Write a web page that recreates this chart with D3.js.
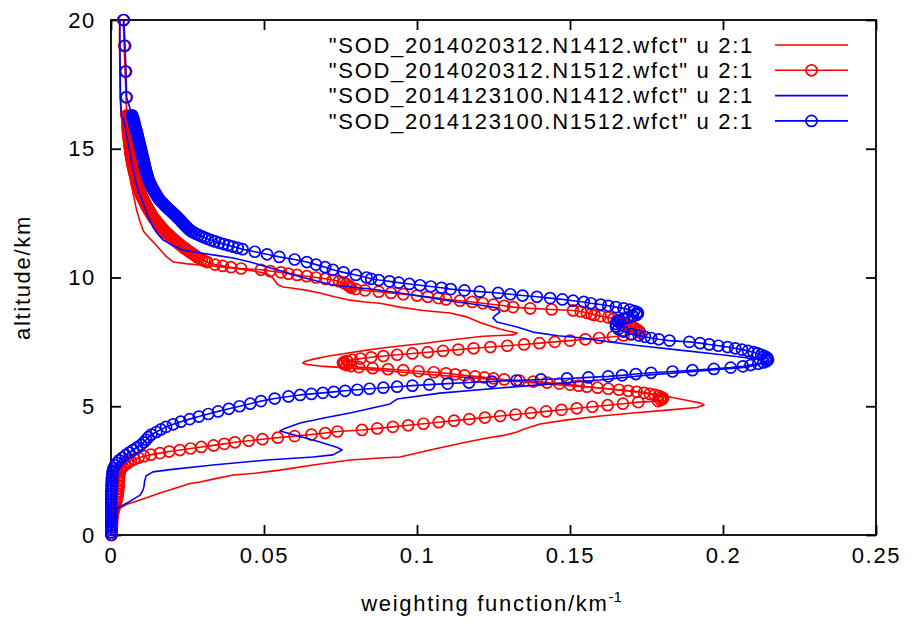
<!DOCTYPE html>
<html>
<head>
<meta charset="utf-8">
<script src="https://cdn.jsdelivr.net/npm/d3@7/dist/d3.min.js"></script>
<style>
    body { margin: 0; background: #fff; }
    .wf-chart text { font-family: "Liberation Sans", Arial, sans-serif; fill: #000; }
</style>
</head>
<body>
<div class="wf-chart"></div>
<script>
// 每条曲线: [weighting function, altitude]
let sodA1412 = [[0.0028,20],[0.0028,19],[0.0029,18],[0.0030,17],[0.0033,16.3],[0.0036,16.1],[0.0042,15.7],[0.0049,15.3],[0.0053,14.8],[0.0057,14.3],[0.0062,13.9],[0.0068,13.5],[0.0075,13.1],[0.0084,12.6],[0.0094,12.2],[0.0106,11.8],[0.0124,11.55],[0.0144,11.3],[0.0163,11.05],[0.0182,10.8],[0.0204,10.6],[0.0250,10.53],[0.0291,10.49],[0.0345,10.43],[0.0399,10.36],[0.0455,10.27],[0.0509,10.16],[0.0529,9.98],[0.0545,9.72],[0.0562,9.63],[0.0595,9.58],[0.0640,9.5],[0.0683,9.4],[0.0730,9.25],[0.0781,9.12],[0.0830,9.05],[0.0879,9.0],[0.0944,8.85],[0.1020,8.72],[0.1108,8.62],[0.1163,8.47],[0.1206,8.25],[0.1240,8.12],[0.1271,8.0],[0.1305,7.9],[0.1327,7.84],[0.1314,7.77],[0.1216,7.72],[0.1108,7.57],[0.1020,7.44],[0.0944,7.34],[0.0880,7.25],[0.0837,7.18],[0.0775,7.07],[0.0716,6.96],[0.0665,6.84],[0.0633,6.74],[0.0627,6.68],[0.0640,6.62],[0.0683,6.56],[0.0760,6.5],[0.0814,6.45],[0.0944,6.33],[0.1108,6.17],[0.1271,6.02],[0.1435,5.86],[0.1598,5.71],[0.1729,5.55],[0.1810,5.4],[0.1876,5.24],[0.1925,5.13],[0.1938,5.05],[0.1915,4.95],[0.1827,4.86],[0.1706,4.74],[0.1600,4.62],[0.1490,4.47],[0.1402,4.31],[0.1350,4.12],[0.1327,4.0],[0.1288,3.88],[0.1220,3.75],[0.1163,3.61],[0.1050,3.32],[0.0944,3.03],[0.0879,2.99],[0.0781,2.91],[0.0660,2.72],[0.0552,2.52],[0.0470,2.4],[0.0399,2.33],[0.0330,2.16],[0.0291,2.06],[0.0258,2.0],[0.0220,1.85],[0.0160,1.63],[0.0095,1.36],[0.0050,1.18],[0.0030,1.05],[0.0020,0.97],[0.0010,0.66],[0.0003,0.27],[0.0000,0]]

let sodA1512 = [[0.0040,20],[0.0043,19],[0.0046,18],[0.0049,17],
    [0.0052,16.3],[0.0052,16.25],[0.0053,16.2],[0.0053,16.15],[0.0053,16.1],[0.0054,16.05],[0.0054,16.0],[0.0054,15.95],[0.0054,15.9],[0.0055,15.85],[0.0055,15.8],[0.0055,15.75],[0.0055,15.7],[0.0056,15.65],[0.0056,15.6],[0.0057,15.55],[0.0057,15.5],[0.0058,15.45],[0.0058,15.4],[0.0059,15.35],[0.0059,15.3],[0.0060,15.25],[0.0060,15.2],[0.0061,15.15],[0.0061,15.1],[0.0062,15.05],[0.0062,15.0],[0.0063,14.95],[0.0063,14.9],[0.0064,14.85],[0.0064,14.8],[0.0065,14.75],[0.0066,14.7],[0.0067,14.65],[0.0067,14.6],[0.0068,14.55],[0.0069,14.5],[0.0070,14.45],[0.0070,14.4],[0.0071,14.35],[0.0072,14.3],[0.0073,14.25],[0.0074,14.2],[0.0075,14.15],[0.0076,14.1],[0.0077,14.05],[0.0078,14.0],[0.0079,13.95],[0.0080,13.9],[0.0081,13.85],[0.0082,13.8],[0.0083,13.75],[0.0084,13.7],[0.0085,13.65],[0.0087,13.6],[0.0088,13.55],[0.0089,13.5],[0.0091,13.45],[0.0092,13.4],[0.0094,13.35],[0.0095,13.3],[0.0097,13.25],[0.0099,13.2],[0.0101,13.15],[0.0103,13.1],[0.0105,13.05],[0.0107,13.0],[0.0109,12.95],[0.0111,12.9],[0.0113,12.85],[0.0115,12.8],[0.0117,12.75],[0.0120,12.7],[0.0122,12.65],[0.0125,12.6],[0.0127,12.55],[0.0130,12.5],[0.0132,12.45],[0.0135,12.4],[0.0137,12.35],[0.0140,12.3],[0.0143,12.25],[0.0147,12.2],[0.0150,12.15],[0.0154,12.1],[0.0157,12.05],[0.0161,12.0],[0.0164,11.95],[0.0168,11.9],[0.0172,11.85],[0.0176,11.8],[0.0180,11.75],[0.0185,11.7],[0.0189,11.65],[0.0194,11.6],[0.0198,11.55],[0.0203,11.5],[0.0208,11.45],[0.0213,11.4],[0.0218,11.35],[0.0223,11.3],[0.0228,11.25],[0.0234,11.2],[0.0239,11.15],[0.0245,11.1],[0.0251,11.05],[0.0257,11.0],[0.0263,10.95],[0.0269,10.9],[0.0275,10.85],[0.0281,10.8],[0.0289,10.75],[0.0297,10.7],[0.0305,10.65],[0.0314,10.6],
    [0.0340,10.5],[0.0365,10.45],[0.0392,10.4],[0.0425,10.35],[0.0490,10.3],[0.0520,10.25],[0.0555,10.2],[0.0580,10.15],[0.0608,10.1],[0.0640,10.05],[0.0670,10.0],[0.0700,9.95],[0.0725,9.9],[0.0745,9.85],[0.0760,9.8],[0.0768,9.75],[0.0775,9.7],[0.0780,9.65],[0.0785,9.6],[0.0800,9.55],[0.0830,9.5],[0.0875,9.45],[0.0915,9.4],[0.0955,9.35],[0.1000,9.3],[0.1035,9.25],[0.1070,9.2],[0.1095,9.15],[0.1140,9.1],[0.1180,9.05],[0.1215,9.0],[0.1250,8.95],[0.1285,8.9],[0.1314,8.85],[0.1370,8.8],[0.1440,8.76],[0.1510,8.72],[0.1535,8.68],[0.1555,8.63],[0.1570,8.58],[0.1580,8.54],[0.1600,8.5],[0.1625,8.45],[0.1642,8.4],[0.1655,8.35],[0.1665,8.3],[0.1675,8.25],[0.1685,8.2],[0.1695,8.15],[0.1703,8.1],[0.1710,8.05],[0.1716,8.0],[0.1722,7.95],[0.1727,7.9],[0.1729,7.85],
    [0.1700,7.8],[0.1675,7.75],[0.1640,7.7],[0.1595,7.65],[0.1550,7.6],[0.1500,7.55],[0.1450,7.5],[0.1400,7.45],[0.1350,7.4],[0.1295,7.35],[0.1240,7.3],[0.1185,7.25],[0.1135,7.2],[0.1085,7.15],[0.1035,7.1],[0.0985,7.05],[0.0935,7.0],[0.0890,6.95],[0.0850,6.9],[0.0815,6.85],[0.0788,6.8],[0.0772,6.76],[0.0762,6.72],[0.0758,6.68],[0.0762,6.64],[0.0770,6.6],[0.0785,6.56],
    [0.0810,6.52],[0.0855,6.48],[0.0905,6.44],[0.0955,6.4],[0.1005,6.36],[0.1055,6.32],[0.1095,6.28],[0.1125,6.24],[0.1155,6.2],[0.1190,6.16],[0.1220,6.12],[0.1250,6.08],[0.1285,6.04],[0.1335,6.0],[0.1380,5.96],[0.1425,5.92],[0.1465,5.88],[0.1500,5.84],[0.1528,5.8],[0.1555,5.76],[0.1590,5.72],[0.1625,5.68],[0.1660,5.64],[0.1690,5.6],[0.1718,5.56],[0.1742,5.52],[0.1761,5.48],[0.1777,5.44],[0.1790,5.4],[0.1798,5.36],[0.1804,5.32],[0.1802,5.28],[0.1796,5.24],[0.1788,5.2],
    [0.1723,5.16],[0.1673,5.1],[0.1623,5.04],[0.1573,4.98],[0.1522,4.92],[0.1472,4.86],[0.1422,4.8],[0.1372,4.74],[0.1322,4.68],[0.1272,4.62],[0.1222,4.56],[0.1171,4.5],[0.1121,4.44],[0.1071,4.38],[0.1021,4.32],[0.0971,4.26],[0.0921,4.2],[0.0870,4.14],[0.0820,4.08],[0.0740,4.02],[0.0700,3.96],[0.0655,3.9],[0.0600,3.84],[0.0545,3.78],[0.0495,3.72],[0.0450,3.66],[0.0405,3.6],[0.0370,3.54],[0.0335,3.48],[0.0295,3.42],[0.0260,3.36],[0.0225,3.3],[0.0190,3.24],[0.0160,3.18],[0.0130,3.12],[0.0108,3.06],[0.0090,3.0],[0.0076,2.94],[0.0065,2.88],[0.0055,2.8],[0.0045,2.72],[0.0038,2.64],[0.0033,2.56],[0.0030,2.48],[0.0028,2.4],[0.0027,2.3],[0.0026,2.2],[0.0026,2.1],[0.0025,2.0],[0.0025,1.9],[0.0024,1.8],[0.0023,1.7],[0.0022,1.6],[0.0021,1.5],[0.0019,1.4],[0.0017,1.3],[0.0015,1.2],[0.0012,1.1],[0.0010,1.0],[0.0008,0.9],[0.0006,0.8],[0.0005,0.7],[0.0004,0.6],[0.0004,0.5],[0.0003,0.4],[0.0003,0.3],[0.0002,0.2],[0.0002,0.1],[0.0002,0]]

let sodB1412 = [[0.0029,20],[0.0029,19],[0.0030,18],[0.0031,17],[0.0034,16.3],[0.0042,16.1],[0.0050,15.6],[0.0056,15.2],[0.0062,14.83],[0.0070,14.3],[0.0078,13.9],[0.0085,13.51],[0.0095,13.2],[0.0105,12.89],[0.0120,12.4],[0.0137,11.96],[0.0152,11.7],[0.0170,11.46],[0.0200,11.25],[0.0235,11.07],[0.0291,10.95],[0.0345,10.86],[0.0399,10.76],[0.0455,10.6],[0.0510,10.41],[0.0565,10.22],[0.0618,10.03],[0.0670,9.87],[0.0725,9.71],[0.0814,9.59],[0.0837,9.57],[0.0944,9.4],[0.1052,9.2],[0.1130,9.05],[0.1206,8.93],[0.1261,8.82],[0.1271,8.66],[0.1255,8.52],[0.1248,8.43],[0.1261,8.27],[0.1327,8.08],[0.1379,7.88],[0.1460,7.74],[0.1542,7.65],[0.1598,7.55],[0.1720,7.36],[0.1859,7.18],[0.1960,7.05],[0.2056,6.91],[0.2127,6.8],[0.2137,6.72],[0.2120,6.64],[0.2078,6.52],[0.1925,6.37],[0.1761,6.22],[0.1598,6.02],[0.1430,5.86],[0.1271,5.71],[0.1075,5.51],[0.0935,5.28],[0.0925,5.2],[0.0912,5.09],[0.0850,4.92],[0.0781,4.74],[0.0700,4.55],[0.0618,4.35],[0.0570,4.15],[0.0552,4.04],[0.0600,3.88],[0.0680,3.62],[0.0740,3.4],[0.0755,3.3],[0.0725,3.11],[0.0660,3.03],[0.0510,2.91],[0.0333,2.72],[0.0200,2.55],[0.0137,2.45],[0.0115,2.3],[0.0110,2.1],[0.0108,1.9],[0.0105,1.75],[0.0095,1.55],[0.0052,1.24],[0.0023,1.05],[0.0010,0.78],[0.0003,0.39],[0.0000,0]]

let sodB1512 = [[0.0042,20],[0.0046,19],[0.0049,18],[0.0051,17],
    [0.0069,16.3],[0.0070,16.25],[0.0071,16.2],[0.0073,16.15],[0.0074,16.1],[0.0075,16.05],[0.0076,16.0],[0.0077,15.95],[0.0078,15.9],[0.0079,15.85],[0.0080,15.8],[0.0082,15.75],[0.0083,15.7],[0.0084,15.65],[0.0085,15.6],[0.0086,15.55],[0.0087,15.5],[0.0088,15.45],[0.0089,15.4],[0.0090,15.35],[0.0091,15.3],[0.0092,15.25],[0.0093,15.2],[0.0094,15.15],[0.0095,15.1],[0.0096,15.05],[0.0097,15.0],[0.0098,14.95],[0.0099,14.9],[0.0100,14.85],[0.0101,14.8],[0.0102,14.75],[0.0103,14.7],[0.0104,14.65],[0.0105,14.6],[0.0106,14.55],[0.0107,14.5],[0.0108,14.45],[0.0109,14.4],[0.0110,14.35],[0.0111,14.3],[0.0112,14.25],[0.0113,14.2],[0.0114,14.15],[0.0115,14.1],[0.0116,14.05],[0.0118,14.0],[0.0119,13.95],[0.0120,13.9],[0.0121,13.85],[0.0123,13.8],[0.0124,13.75],[0.0126,13.7],[0.0128,13.65],[0.0130,13.6],[0.0132,13.55],[0.0134,13.5],[0.0136,13.45],[0.0139,13.4],[0.0141,13.35],[0.0144,13.3],[0.0146,13.25],[0.0149,13.2],[0.0151,13.15],[0.0154,13.1],[0.0157,13.05],[0.0160,13.0],[0.0164,12.95],[0.0168,12.9],[0.0172,12.85],[0.0176,12.8],[0.0180,12.75],[0.0185,12.7],[0.0189,12.65],[0.0194,12.6],[0.0198,12.55],[0.0203,12.5],[0.0207,12.45],[0.0212,12.4],[0.0216,12.35],[0.0220,12.3],[0.0224,12.25],[0.0228,12.2],[0.0232,12.15],[0.0236,12.1],[0.0240,12.05],[0.0244,12.0],[0.0248,11.95],[0.0252,11.9],[0.0257,11.85],[0.0262,11.8],[0.0270,11.75],[0.0278,11.7],[0.0287,11.65],[0.0296,11.6],[0.0306,11.55],[0.0316,11.5],[0.0328,11.45],[0.0340,11.4],[0.0354,11.35],[0.0368,11.3],[0.0383,11.25],[0.0398,11.2],[0.0414,11.15],[0.0430,11.1],
    [0.0470,11.0],[0.0510,10.9],[0.0550,10.8],[0.0600,10.7],[0.0640,10.6],[0.0670,10.5],[0.0700,10.4],[0.0725,10.3],[0.0760,10.2],[0.0800,10.1],[0.0835,10.0],
    [0.0850,9.95],[0.0875,9.9],[0.0910,9.85],[0.0940,9.8],[0.0975,9.75],[0.1010,9.7],[0.1045,9.65],[0.1080,9.6],[0.1110,9.55],[0.1155,9.5],[0.1205,9.45],[0.1265,9.4],[0.1305,9.35],[0.1345,9.3],[0.1392,9.25],[0.1435,9.2],[0.1475,9.15],[0.1510,9.1],[0.1545,9.05],[0.1568,9.0],
    [0.1600,8.95],[0.1625,8.9],[0.1650,8.85],[0.1675,8.8],[0.1695,8.75],[0.1710,8.7],[0.1720,8.65],[0.1722,8.6],[0.1718,8.55],[0.1705,8.5],[0.1690,8.45],[0.1675,8.4],[0.1663,8.35],[0.1655,8.3],[0.1650,8.2],[0.1650,8.1],[0.1658,8.0],[0.1675,7.9],[0.1700,7.8],
    [0.1725,7.75],[0.1745,7.7],[0.1765,7.65],[0.1790,7.6],[0.1825,7.55],[0.1890,7.5],[0.1925,7.45],[0.1955,7.4],[0.1985,7.35],[0.2015,7.3],[0.2040,7.25],[0.2062,7.2],[0.2082,7.15],[0.2100,7.1],[0.2113,7.05],[0.2125,7.0],[0.2135,6.95],[0.2142,6.9],[0.2146,6.85],[0.2147,6.8],[0.2142,6.75],[0.2132,6.7],[0.2115,6.65],[0.2090,6.6],[0.2065,6.55],[0.2025,6.5],[0.1970,6.45],[0.1900,6.4],[0.1835,6.35],[0.1765,6.3],[0.1715,6.25],[0.1670,6.2],
    [0.1625,6.16],[0.1560,6.12],[0.1490,6.08],[0.1405,6.04],[0.1325,6.0],[0.1245,5.96],[0.1170,5.92],[0.1100,5.88],[0.1040,5.84],[0.0985,5.8],[0.0935,5.76],[0.0890,5.72],[0.0845,5.68],[0.0805,5.64],[0.0765,5.6],[0.0728,5.56],[0.0692,5.52],[0.0655,5.48],[0.0618,5.44],[0.0580,5.38],[0.0535,5.3],[0.0490,5.2],[0.0455,5.1],[0.0420,5.0],[0.0385,4.9],[0.0350,4.8],[0.0318,4.7],[0.0287,4.6],[0.0257,4.5],[0.0228,4.4],[0.0203,4.3],[0.0180,4.2],[0.0163,4.1],[0.0148,4.0],[0.0132,3.9],[0.0122,3.8],[0.0115,3.7],[0.0107,3.6],[0.0098,3.5],[0.0085,3.4],[0.0072,3.3],[0.0060,3.2],[0.0048,3.1],[0.0037,3.0],[0.0027,2.9],[0.0019,2.8],[0.0013,2.7],[0.0009,2.6],[0.0006,2.5],[0.0005,2.4],[0.0004,2.3],[0.0003,2.2],[0.0003,2.1],[0.0002,2.0],[0.0002,1.9],[0.0002,1.8],[0.0001,1.7],[0.0001,1.6],[0.0001,1.5],[0.0001,1.4],[0.0001,1.3],[0.0001,1.2],[0.0001,1.1],[0.0001,1.0],[0.0001,0.9],[0.0001,0.8],[0.0001,0.7],[0.0001,0.6],[0.0001,0.5],[0.0001,0.4],[0.0001,0.3],[0.0001,0.2],[0.0001,0.1],[0.0001,0]]

let seriesNames = ['"SOD_2014020312.N1412.wfct" u 2:1', '"SOD_2014020312.N1512.wfct" u 2:1',
    '"SOD_2014123100.N1412.wfct" u 2:1', '"SOD_2014123100.N1512.wfct" u 2:1']
let seriesData = [sodA1412, sodA1512, sodB1412, sodB1512]
let seriesColors = ["#ff0000", "#ff0000", "#0000ff", "#0000ff"]
let seriesPoints = [false, true, false, true]

let xTicks = [0, 0.05, 0.1, 0.15, 0.2, 0.25]
let xTickLabels = ["0", "0.05", "0.1", "0.15", "0.2", "0.25"]
let yTicks = [0, 5, 10, 15, 20]

let width = 911
let height = 624
let plotLeft = 111, plotRight = 876, plotTop = 20, plotBottom = 535 //画图区域
let fontSize = 22
let spacing = "1.7px" //字体比 Arial 略宽
let pointR = 5.5

let svg = d3.select(".wf-chart")
    .append("svg")
    .attr("width", width)
    .attr("height", height)
    .style("display", "block")
    .style("background", "#fff")

let x = d3.scaleLinear().domain([0, 0.25]).range([plotLeft, plotRight])
let y = d3.scaleLinear().domain([0, 20]).range([plotBottom, plotTop])

//坐标轴, 刻度朝内, 上/右为镜像刻度
let axisStyle = (g) => {
    g.select(".domain").remove()
    g.selectAll(".tick line").attr("stroke", "#000").attr("stroke-width", 1.8)
    g.selectAll(".tick text").attr("font-size", fontSize).attr("letter-spacing", spacing).attr("fill", "#000")
        .attr("font-family", '"Liberation Sans", Arial, sans-serif')
}
svg.append("g")
    .attr("transform", `translate(0,${plotBottom})`)
    .call(d3.axisBottom(x).tickValues(xTicks).tickSize(-10).tickPadding(12).tickFormat((d, i) => xTickLabels[i]))
    .call(axisStyle)
svg.append("g")
    .attr("transform", `translate(0,${plotTop})`)
    .call(d3.axisTop(x).tickValues(xTicks).tickSize(-10).tickFormat(""))
    .call(axisStyle)
svg.append("g")
    .attr("transform", `translate(${plotLeft},0)`)
    .call(d3.axisLeft(y).tickValues(yTicks).tickSize(-10).tickPadding(15).tickFormat(d3.format("d")))
    .call(axisStyle)
svg.append("g")
    .attr("transform", `translate(${plotRight},0)`)
    .call(d3.axisRight(y).tickValues(yTicks).tickSize(-10).tickFormat(""))
    .call(axisStyle)

svg.append("rect")
    .attr("x", plotLeft)
    .attr("y", plotTop)
    .attr("width", plotRight - plotLeft)
    .attr("height", plotBottom - plotTop)
    .attr("fill", "none")
    .attr("stroke", "#000")
    .attr("stroke-width", 1.8)

//轴标题
svg.append("text")
    .attr("x", (plotLeft + plotRight) / 2 - 2)
    .attr("y", 611)
    .attr("text-anchor", "middle")
    .attr("font-size", fontSize)
    .attr("letter-spacing", spacing)
    .text("weighting function/km")
    .append("tspan")
    .attr("dy", -9)
    .attr("font-size", 15)
    .attr("letter-spacing", "0px")
    .text("-1")
svg.append("text")
    .attr("transform", `translate(30,${(plotTop + plotBottom) / 2}) rotate(-90)`)
    .attr("text-anchor", "middle")
    .attr("font-size", fontSize)
    .attr("letter-spacing", spacing)
    .text("altitude/km")

//曲线
let line = d3.line()
    .x((d) => x(d[0]))
    .y((d) => y(d[1]))
seriesData.forEach((data, i) => {
    let g = svg.append("g")
    g.append("path")
        .datum(data)
        .attr("fill", "none")
        .attr("stroke", seriesColors[i])
        .attr("stroke-width", 1.6)
        .attr("stroke-linejoin", "round")
        .attr("d", line)
    if (seriesPoints[i]) {
        g.selectAll("circle")
            .data(data)
            .enter()
            .append("circle")
            .attr("cx", (d) => x(d[0]))
            .attr("cy", (d) => y(d[1]))
            .attr("r", pointR)
            .attr("fill", "none")
            .attr("stroke", seriesColors[i])
            .attr("stroke-width", 1.7)
    }
})

//图例
let legend = svg.append("g")
seriesNames.forEach((name, i) => {
    let ly = 45 + i * 25.3
    legend.append("text")
        .attr("x", 754)
        .attr("y", ly)
        .attr("dy", "0.35em")
        .attr("text-anchor", "end")
        .attr("font-size", fontSize)
        .attr("letter-spacing", spacing)
        .text(name)
    legend.append("line")
        .attr("x1", 775)
        .attr("x2", 848)
        .attr("y1", ly)
        .attr("y2", ly)
        .attr("stroke", seriesColors[i])
        .attr("stroke-width", 1.6)
    if (seriesPoints[i]) {
        legend.append("circle")
            .attr("cx", 811.5)
            .attr("cy", ly)
            .attr("r", pointR)
            .attr("fill", "none")
            .attr("stroke", seriesColors[i])
            .attr("stroke-width", 1.7)
    }
})
</script>
</body>
</html>
